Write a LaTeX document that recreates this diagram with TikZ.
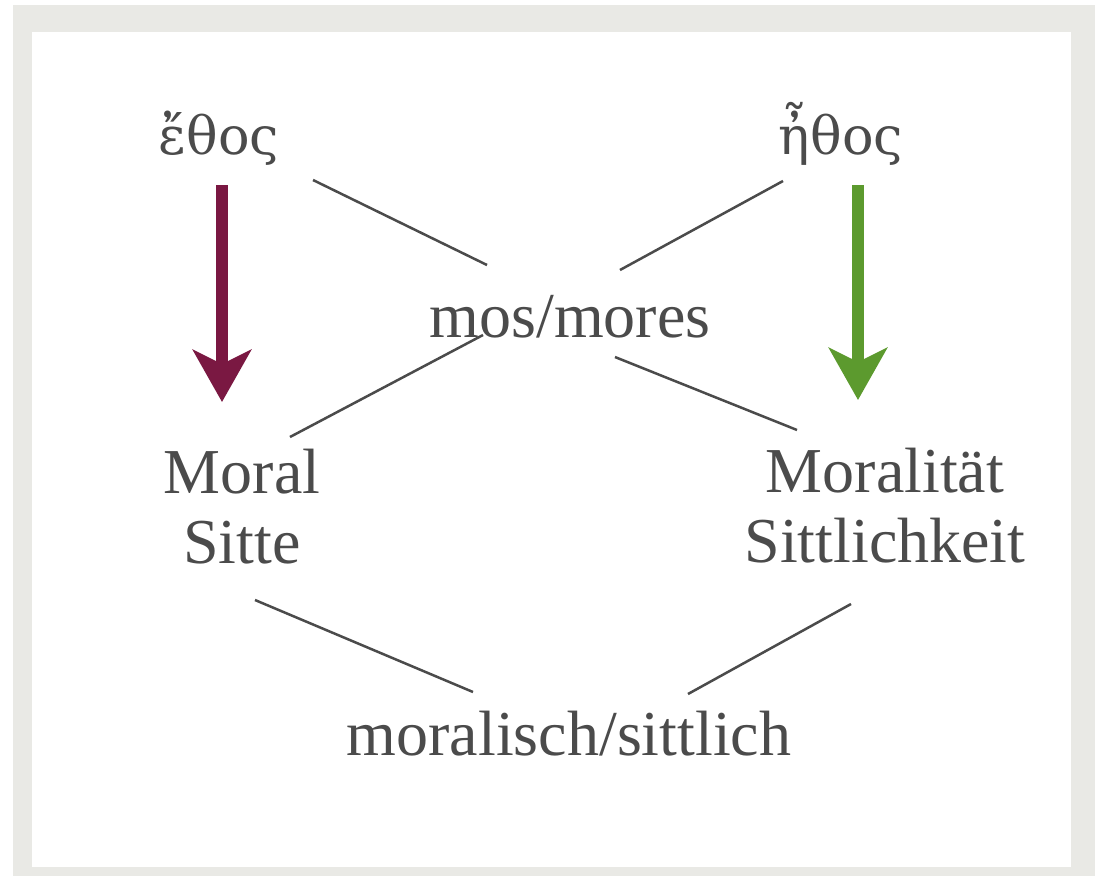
\documentclass[tikz,border=0pt]{standalone}
\usepackage{fontspec}
\setmainfont{Liberation Serif}
\newfontfamily\greekfont[Scale=0.82]{DejaVu Serif}
\usetikzlibrary{arrows.meta}
\definecolor{textgrey}{RGB}{75,75,75}
\definecolor{framegrey}{RGB}{233,233,229}
\definecolor{wine}{RGB}{122,24,66}
\definecolor{leaf}{RGB}{92,154,46}

\begin{document}
\begin{tikzpicture}[x=1pt,y=-1pt,
	word/.style={anchor=base,text=textgrey,inner sep=0pt,align=center,font=\fontsize{64}{70}\selectfont},
	link/.style={draw=textgrey,line width=2.5pt},
	bigarrow/.style={line width=12pt,-{Stealth[length=52pt,width=58pt,inset=14pt]}}]
	\useasboundingbox (0,0) rectangle (1095,876);
	\fill[framegrey] (13,5) rectangle (1095,876);
	\fill[white] (32,32) rectangle (1071,867);

	\node[word] (ethos) at (219,154) {\greekfont ἔθος};
	\node[word] (hethos) at (841,154) {\greekfont ἦθος};
	\node[word] (mos) at (570,337) {mos/mores};
	\node[word] (moral) at (242,563) {Moral\\Sitte};
	\node[word] (moralitaet) at (885,562) {Moralität\\Sittlichkeit};
	\node[word] (moralisch) at (569,755) {moralisch/sittlich};

	\draw[link] ([shift={(94,26)}]ethos.base) -- ([shift={(-83,-72)}]mos.base);
	\draw[link] ([shift={(-58,27)}]hethos.base) -- ([shift={(50,-67)}]mos.base);
	\draw[link] ([shift={(-87,-2)}]mos.base) -- ([shift={(48,-126)}]moral.base);
	\draw[link] ([shift={(45,20)}]mos.base) -- ([shift={(-88,-132)}]moralitaet.base);
	\draw[link] ([shift={(13,37)}]moral.base) -- ([shift={(-96,-63)}]moralisch.base);
	\draw[link] ([shift={(-34,42)}]moralitaet.base) -- ([shift={(119,-61)}]moralisch.base);

	\draw[bigarrow,wine] ([shift={(3,31)}]ethos.base) -- ([shift={(-20,-161)}]moral.base);
	\draw[bigarrow,leaf] ([shift={(17,31)}]hethos.base) -- ([shift={(-27,-162)}]moralitaet.base);
\end{tikzpicture}
\end{document}
